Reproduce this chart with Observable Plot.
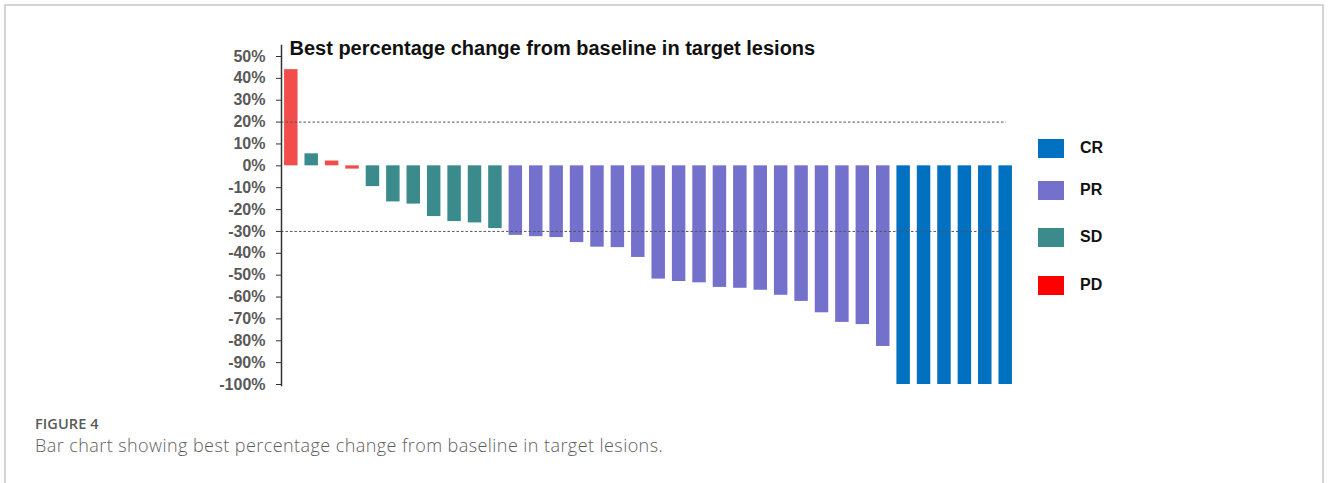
<!DOCTYPE html>
<html>
<head>
<meta charset="utf-8">
<script src="https://cdn.jsdelivr.net/npm/d3@7"></script>
<script src="https://cdn.jsdelivr.net/npm/@observablehq/plot@0.6"></script>
<style>
  html, body { margin: 0; padding: 0; background: #fff; }
  #page { position: relative; width: 1328px; height: 483px; overflow: hidden; background: #fff; }
  #border { position: absolute; left: 4px; top: 4px; width: 1320px; height: 520px; border: 2px solid #d4d4d4; box-sizing: border-box; }
  #chart { position: absolute; left: 0; top: 0; }
  .legend-item { position: absolute; left: 1038px; height: 20px; display: flex; align-items: center; }
  .legend-item .sw { width: 26px; height: 19px; }
  .legend-item .lb { margin-left: 16px; font: bold 16px "Liberation Sans", Arial, sans-serif; color: #111; }
  #fig { position: absolute; left: 35px; top: 414px; font: 600 14.5px "Open Sans", sans-serif; color: #5a5a5a; letter-spacing: 0.1px; }
  #cap { position: absolute; left: 35px; top: 433px; font: 300 18px "Open Sans", sans-serif; color: #5e5e5e; letter-spacing: 0.43px; }
</style>
</head>
<body>
<div id="page">
  <div id="border"></div>
  <div id="chart"></div>
  <div id="legend"></div>
  <div id="fig">FIGURE 4</div>
  <div id="cap">Bar chart showing best percentage change from baseline in target lesions.</div>
</div>
<script>
// Best overall response per patient, in waterfall order
const responses = [
  "PD", "SD", "PD", "PD",
  "SD", "SD", "SD", "SD", "SD", "SD", "SD",
  "PR", "PR", "PR", "PR", "PR", "PR", "PR", "PR", "PR", "PR",
  "PR", "PR", "PR", "PR", "PR", "PR", "PR", "PR", "PR",
  "CR", "CR", "CR", "CR", "CR", "CR"
];

// Best percentage change from baseline in target lesions (%)
const changes = [
  44, 5.5, 2.2, -1.5,
  -9.5, -16.5, -17.5, -23.2, -25.5, -26.1, -28.7,
  -31.8, -32.4, -32.8, -35.1, -37.2, -37.4, -41.9, -51.8, -52.9, -53.5,
  -55.6, -56.0, -56.9, -59.2, -62.0, -67.2, -71.6, -72.6, -82.6,
  -100, -100, -100, -100, -100, -100
];

// Response categories and their colours
const categories = ["CR", "PR", "SD", "PD"];
const barColors = ["#0070c0", "#7471cd", "#3b8b8c", "#f24d4d"];
const legendColors = ["#0070c0", "#7471cd", "#3b8b8c", "#ff0000"];

// Y axis ticks and reference thresholds (PD above +20%, PR below -30%)
const yTicks = d3.range(-100, 51, 10);
const thresholds = [20, -30];

const titleText = "Best percentage change from baseline in target lesions";

const rows = changes.map((v, i) => ({patient: i + 1, change: v, response: responses[i]}));

const chart = Plot.plot({
  width: 1328,
  height: 400,
  marginLeft: 281,
  marginRight: 313,
  marginTop: 56,
  marginBottom: 16,
  style: {background: "transparent", overflow: "visible"},
  x: {type: "band", domain: rows.map(d => d.patient), paddingInner: 0.34, paddingOuter: 0.15, round: false, axis: null},
  y: {domain: [-100, 50], axis: null},
  color: {domain: categories, range: barColors},
  marks: [
    Plot.barY(rows, {x: "patient", y: "change", fill: "response"}),
    Plot.ruleY(thresholds, {stroke: "#555", strokeWidth: 1, strokeDasharray: "2.5,2", insetRight: 9}),
    Plot.frame({anchor: "left", stroke: "#333", strokeWidth: 1.5, insetTop: -11, insetBottom: -1}),
    Plot.axisY({
      ticks: yTicks,
      tickSize: 5,
      tickPadding: 11,
      tickFormat: d => `${d}%`,
      stroke: "#333",
      fill: "#595959",
      fontSize: 16,
      fontWeight: "bold",
      fontFamily: "Liberation Sans, Arial, sans-serif",
      label: null
    }),
    Plot.text([titleText], {
      frameAnchor: "top-left",
      text: d => d,
      dx: 8,
      dy: -2,
      lineAnchor: "bottom",
      textAnchor: "start",
      fontSize: 20,
      fontWeight: "bold",
      fontFamily: "Liberation Sans, Arial, sans-serif",
      fill: "#111"
    })
  ]
});
document.getElementById("chart").appendChild(chart);

// Legend to the right of the bars
const legendTops = [138, 180, 227, 275];
const legend = document.getElementById("legend");
categories.forEach((c, i) => {
  const item = document.createElement("div");
  item.className = "legend-item";
  item.style.top = legendTops[i] + "px";
  const sw = document.createElement("div");
  sw.className = "sw";
  sw.style.background = legendColors[i];
  const lb = document.createElement("span");
  lb.className = "lb";
  lb.textContent = c;
  item.appendChild(sw);
  item.appendChild(lb);
  legend.appendChild(item);
});
</script>
</body>
</html>
